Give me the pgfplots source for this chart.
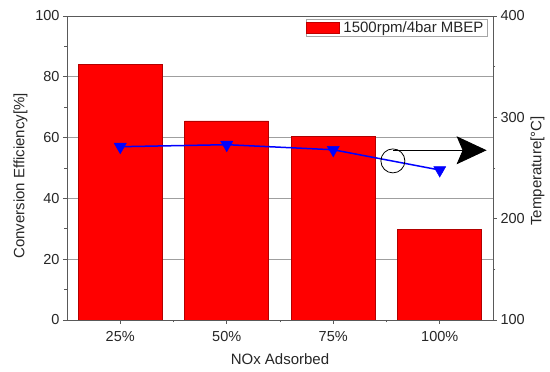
\documentclass[border=0pt]{standalone}
\usepackage{fontspec}
\setmainfont{Liberation Sans}
\usepackage{pgfplots}
\pgfplotsset{compat=1.18}
\usetikzlibrary{arrows.meta}
\definecolor{axgray}{gray}{0.35}
\definecolor{txtgray}{gray}{0.15}
\begin{document}
\begin{tikzpicture}[x=1pt,y=1pt]
\pgfplotsset{
  every axis/.append style={
    font=\fontsize{14.5}{17}\selectfont,
    label style={font=\fontsize{15}{18}\selectfont, text=txtgray},
    tick label style={text=txtgray},
    /pgf/number format/assume math mode=true,
    scale only axis, width=426pt, height=304pt,
    at={(0,0)}, anchor=south west,
    xmin=-0.5, xmax=3.5,
    tick align=outside,
    major tick length=4pt, minor tick length=2.5pt,
    every tick/.style={axgray, line width=0.8pt},
    axis line style={axgray, line width=0.9pt},
  }
}
\begin{axis}[
  ymin=0, ymax=100,
  xtick={0,1,2,3}, xticklabels={25\%,50\%,75\%,100\%},
  minor xtick={0.5,1.5,2.5},
  xticklabel style={yshift=-4pt},
  ytick={0,20,40,60,80,100}, minor ytick={10,30,50,70,90},
  xtick pos=bottom, ytick pos=left,
  ymajorgrids, major grid style={gray!75, line width=0.9pt},
  ylabel={Conversion Efficiency[\%]},
  xlabel={NOx Adsorbed},
  ylabel style={yshift=1pt, xshift=-8pt},
  xlabel style={yshift=-5pt},
  legend style={at={(rel axis cs:0.988,0.99)}, anchor=north east,
    draw=gray!70, line width=0.8pt, inner sep=0.5pt,
    nodes={inner xsep=3.5pt},
    font=\fontsize{15}{16}\selectfont, text=txtgray},
  legend image code/.code={\fill[red,draw=red!75!black] (-2pt,-5.5pt) rectangle (31pt,6pt);},
  legend cell align=left,
]
\addplot[ybar, bar width=84pt, fill=red, draw=red!70!black, line width=0.5pt]
  coordinates {(0,84) (1,65.5) (2,60.5) (3,29.8)};
\addlegendentry{1500rpm/4bar MBEP}
\end{axis}
\begin{axis}[
  ymin=100, ymax=400,
  axis y line*=right, axis x line=none,
  ytick={100,200,300,400}, minor ytick={150,250,350},
  ylabel={Temperature[°C]},
  ylabel style={yshift=1pt, xshift=-3pt},
]
\addplot[blue, line width=1.5pt, mark=triangle*,
  mark options={rotate=180, fill=blue, draw=blue, mark size=7pt, line width=0.5pt}]
  coordinates {(0,271) (1,273) (2,268) (3,248)};
\draw[black, line width=0.8pt] (axis cs:2.56,257) circle[radius=12pt];
\draw[black, line width=0.9pt, -{Stealth[length=30pt,width=28pt,inset=6pt]}]
  (axis cs:2.56,267.5) -- (axis cs:3.44,267.5);
\end{axis}
\path[use as bounding box] (-67pt,-52pt) rectangle (483pt,320pt);
\end{tikzpicture}
\end{document}
